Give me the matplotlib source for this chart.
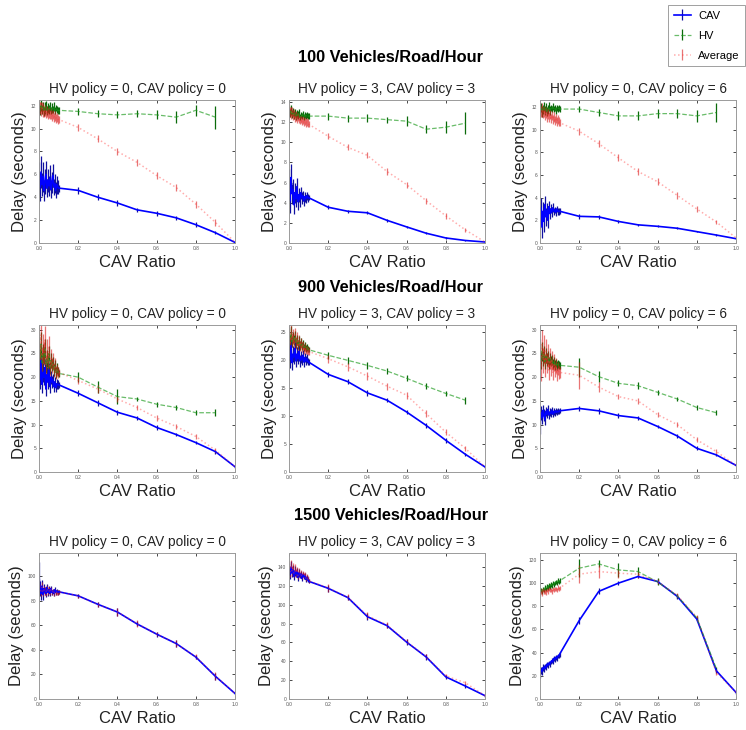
import matplotlib
matplotlib.use('Agg')
import matplotlib.pyplot as plt

plt.rcParams['font.family'] = ['Liberation Sans', 'DejaVu Sans']

# cav ratio grid: dense steps up to 0.1, then steps of 0.1
X = [0.0, 0.005, 0.01, 0.015, 0.02, 0.025, 0.03, 0.035, 0.04, 0.045,
     0.05, 0.055, 0.06, 0.065, 0.07, 0.075, 0.08, 0.085, 0.09, 0.095,
     0.1, 0.2, 0.3, 0.4, 0.5, 0.6, 0.7, 0.8, 0.9, 1.0]
X_HV = X[:29]   # no human vehicles at ratio 1.0

X_TICKS = [0.0, 0.2, 0.4, 0.6, 0.8, 1.0]
ROW_TITLES = ['100 Vehicles/Road/Hour', '900 Vehicles/Road/Hour', '1500 Vehicles/Road/Hour']
PANEL_TITLES = ['HV policy = 0, CAV policy = 0',
                'HV policy = 3, CAV policy = 3',
                'HV policy = 0, CAV policy = 6']

# ---- 100 vehicles/road/hour ----
cav_100_a = [5.6, 4.9, 6.2, 5.1, 5.8, 4.6, 5.4, 6.0, 4.8, 5.5, 5.0, 5.7, 4.7, 5.3, 5.9, 4.9, 5.2, 4.6, 5.1, 4.9,
             4.8, 4.6, 4.0, 3.5, 2.9, 2.6, 2.2, 1.6, 0.9, 0.05]
cav_err_100_a = [1.5, 1.2, 1.4, 1.0, 1.3, 0.9, 1.1, 1.2, 0.8, 1.0, 0.9, 1.1, 0.8, 0.9, 1.0, 0.7, 0.8, 0.7, 0.8, 0.6,
                 0.3, 0.3, 0.25, 0.25, 0.2, 0.2, 0.2, 0.2, 0.15, 0.05]
hv_100_a = [11.9, 11.6, 12.0, 11.7, 11.9, 11.5, 11.8, 12.0, 11.6, 11.8, 11.7, 11.9, 11.6, 11.8, 11.7, 11.9, 11.6, 11.8, 11.7, 11.6,
            11.6, 11.5, 11.3, 11.2, 11.3, 11.2, 11.0, 11.6, 11.0]
hv_err_100_a = [0.5, 0.4, 0.5, 0.4, 0.4, 0.4, 0.5, 0.4, 0.4, 0.4, 0.4, 0.4, 0.3, 0.4, 0.3, 0.4, 0.3, 0.3, 0.3, 0.3,
                0.3, 0.3, 0.3, 0.3, 0.3, 0.4, 0.5, 0.5, 1.0]
avg_100_a = [11.9, 11.8, 11.7, 11.8, 11.6, 11.5, 11.6, 11.4, 11.5, 11.3, 11.4, 11.2, 11.3, 11.1, 11.2, 11.0, 11.1, 10.9, 11.0, 10.8,
             10.8, 10.1, 9.1, 8.0, 7.05, 5.9, 4.85, 3.4, 1.8, 0.05]
avg_err_100_a = [0.6, 0.5, 0.6, 0.5, 0.6, 0.5, 0.5, 0.5, 0.5, 0.5, 0.5, 0.4, 0.5, 0.4, 0.4, 0.4, 0.4, 0.4, 0.4, 0.4,
                 0.3, 0.3, 0.3, 0.3, 0.3, 0.3, 0.3, 0.3, 0.3, 0.05]

cav_100_b = [5.8, 4.2, 6.5, 4.9, 5.3, 3.8, 5.0, 4.4, 5.6, 4.1, 4.8, 4.3, 5.0, 4.5, 4.7, 4.2, 4.6, 4.4, 4.7, 4.5,
             4.5, 3.55, 3.15, 3.0, 2.25, 1.6, 0.97, 0.5, 0.25, 0.1]
cav_err_100_b = [1.5, 1.2, 1.3, 1.0, 1.1, 0.9, 1.0, 0.8, 0.9, 0.8, 0.7, 0.7, 0.6, 0.6, 0.5, 0.5, 0.5, 0.4, 0.4, 0.4,
                 0.25, 0.2, 0.15, 0.15, 0.15, 0.1, 0.1, 0.1, 0.05, 0.05]
hv_100_b = [13.1, 12.9, 13.2, 12.8, 13.0, 12.7, 12.9, 12.6, 12.8, 12.7, 12.9, 12.5, 12.7, 12.6, 12.8, 12.5, 12.7, 12.6, 12.7, 12.6,
            12.6, 12.6, 12.4, 12.4, 12.25, 12.1, 11.3, 11.5, 11.9]
hv_err_100_b = [0.5, 0.4, 0.5, 0.4, 0.4, 0.4, 0.4, 0.4, 0.4, 0.4, 0.4, 0.3, 0.3, 0.3, 0.3, 0.3, 0.3, 0.3, 0.3, 0.3,
                0.3, 0.35, 0.35, 0.4, 0.3, 0.5, 0.4, 0.6, 1.1]
avg_100_b = [13.2, 13.0, 12.9, 13.0, 12.7, 12.8, 12.5, 12.6, 12.4, 12.5, 12.3, 12.2, 12.3, 12.1, 12.2, 12.0, 12.1, 11.9, 12.0, 11.9,
             11.8, 10.6, 9.5, 8.7, 7.1, 5.8, 4.2, 2.7, 1.3, 0.1]
avg_err_100_b = [0.6, 0.5, 0.6, 0.5, 0.5, 0.5, 0.5, 0.5, 0.5, 0.4, 0.4, 0.4, 0.4, 0.4, 0.4, 0.4, 0.4, 0.4, 0.4, 0.4,
                 0.3, 0.3, 0.3, 0.3, 0.3, 0.3, 0.3, 0.3, 0.2, 0.05]

cav_100_c = [2.2, 3.1, 1.4, 2.8, 1.9, 3.4, 2.3, 2.9, 2.0, 3.2, 2.6, 3.0, 2.7, 3.1, 2.8, 2.9, 2.7, 3.0, 2.8, 2.8,
             2.8, 2.35, 2.3, 1.9, 1.6, 1.47, 1.3, 1.0, 0.7, 0.38]
cav_err_100_c = [1.0, 0.9, 1.0, 0.8, 0.9, 0.7, 0.8, 0.6, 0.7, 0.5, 0.5, 0.4, 0.4, 0.4, 0.3, 0.3, 0.3, 0.3, 0.3, 0.3,
                 0.25, 0.2, 0.15, 0.1, 0.1, 0.1, 0.1, 0.05, 0.05, 0.05]
hv_100_c = [11.7, 11.9, 11.6, 11.8, 12.0, 11.7, 11.9, 11.6, 11.8, 12.0, 11.7, 11.9, 11.8, 12.0, 11.8, 11.9, 11.7, 11.9, 11.8, 11.9,
            11.8, 11.8, 11.5, 11.2, 11.2, 11.4, 11.4, 11.2, 11.5]
hv_err_100_c = [0.5, 0.4, 0.5, 0.4, 0.4, 0.4, 0.4, 0.4, 0.4, 0.4, 0.4, 0.3, 0.3, 0.3, 0.3, 0.3, 0.3, 0.3, 0.3, 0.3,
                0.3, 0.3, 0.3, 0.4, 0.4, 0.4, 0.4, 0.5, 0.8]
avg_100_c = [11.8, 11.6, 11.7, 11.5, 11.6, 11.3, 11.5, 11.2, 11.4, 11.1, 11.3, 11.0, 11.2, 10.9, 11.1, 10.8, 11.0, 10.7, 10.9, 10.7,
             10.6, 9.85, 8.75, 7.5, 6.3, 5.4, 4.2, 3.0, 1.85, 0.45]
avg_err_100_c = [0.6, 0.5, 0.6, 0.5, 0.5, 0.5, 0.5, 0.5, 0.5, 0.4, 0.4, 0.4, 0.4, 0.4, 0.4, 0.4, 0.4, 0.4, 0.4, 0.4,
                 0.3, 0.3, 0.3, 0.3, 0.3, 0.3, 0.3, 0.3, 0.2, 0.05]

# ---- 900 vehicles/road/hour ----
cav_900_a = [22.5, 19.5, 23.5, 18.5, 21.0, 20.0, 22.0, 17.5, 20.5, 19.0, 21.5, 18.0, 20.0, 19.0, 19.5, 18.0, 19.0, 17.8, 18.6, 18.4,
             18.4, 16.6, 14.6, 12.6, 11.4, 9.4, 7.9, 6.2, 4.3, 1.1]
cav_err_900_a = [2.5, 2.0, 2.2, 1.8, 2.0, 1.6, 1.8, 1.5, 1.6, 1.4, 1.5, 1.3, 1.4, 1.2, 1.2, 1.1, 1.1, 1.0, 1.0, 1.0,
                 0.6, 0.6, 0.6, 0.5, 0.5, 0.5, 0.4, 0.4, 0.4, 0.2]
hv_900_a = [26.0, 24.0, 27.0, 23.0, 25.0, 24.5, 26.0, 22.5, 24.0, 23.0, 25.0, 22.0, 23.5, 22.5, 23.0, 21.5, 22.5, 21.0, 21.8, 21.2,
            20.8, 20.0, 17.9, 15.9, 15.4, 14.3, 13.6, 12.5, 12.5]
hv_err_900_a = [2.5, 2.0, 2.5, 2.0, 2.0, 1.8, 2.0, 1.6, 1.8, 1.5, 1.6, 1.4, 1.5, 1.3, 1.3, 1.2, 1.2, 1.1, 1.1, 1.0,
                0.8, 1.0, 1.2, 1.5, 0.5, 0.5, 0.5, 0.5, 0.7]
avg_900_a = [27.0, 24.0, 29.0, 23.5, 26.0, 25.0, 28.0, 22.5, 25.5, 23.0, 26.5, 22.0, 24.0, 22.5, 23.5, 21.5, 22.5, 21.0, 21.5, 21.0,
             21.0, 19.3, 17.5, 15.4, 13.6, 11.4, 9.6, 7.5, 4.6, 1.1]
avg_err_900_a = [3.5, 3.0, 3.0, 2.8, 3.0, 2.5, 2.8, 2.2, 2.5, 2.0, 2.2, 1.8, 2.0, 1.6, 1.6, 1.5, 1.5, 1.4, 1.3, 1.2,
                 0.8, 0.8, 0.8, 0.7, 0.6, 0.6, 0.5, 0.5, 0.5, 0.2]

cav_900_b = [21.5, 20.0, 22.5, 19.5, 21.0, 20.5, 22.0, 19.8, 21.0, 20.2, 21.5, 19.8, 20.5, 20.0, 20.8, 19.6, 20.4, 19.8, 20.2, 19.7,
             19.6, 17.4, 16.1, 14.1, 12.8, 10.7, 8.3, 5.65, 3.15, 0.9]
cav_err_900_b = [1.6, 1.4, 1.5, 1.3, 1.4, 1.2, 1.3, 1.1, 1.2, 1.0, 1.1, 1.0, 1.0, 0.9, 0.9, 0.9, 0.8, 0.8, 0.8, 0.7,
                 0.5, 0.5, 0.5, 0.5, 0.4, 0.4, 0.4, 0.4, 0.3, 0.2]
hv_900_b = [24.5, 23.5, 24.8, 23.2, 24.0, 23.6, 24.2, 23.0, 23.6, 22.8, 23.4, 22.6, 23.0, 22.4, 22.8, 22.2, 22.5, 22.0, 22.2, 21.9,
            21.8, 20.8, 19.9, 19.0, 18.0, 16.7, 15.3, 14.0, 12.8]
hv_err_900_b = [1.2, 1.0, 1.2, 1.0, 1.0, 0.9, 1.0, 0.9, 0.9, 0.8, 0.8, 0.8, 0.8, 0.7, 0.7, 0.7, 0.7, 0.6, 0.6, 0.6,
                0.5, 0.6, 0.6, 0.6, 0.5, 0.5, 0.5, 0.5, 0.6]
avg_900_b = [24.5, 23.0, 25.0, 23.5, 24.2, 22.8, 24.5, 23.0, 23.8, 22.6, 23.4, 22.5, 23.0, 22.2, 22.6, 21.9, 22.2, 21.7, 21.8, 21.6,
             21.5, 20.2, 18.75, 17.1, 15.3, 13.7, 10.4, 7.1, 4.2, 0.9]
avg_err_900_b = [1.5, 1.3, 1.5, 1.2, 1.3, 1.1, 1.2, 1.0, 1.1, 1.0, 1.0, 0.9, 0.9, 0.9, 0.8, 0.8, 0.8, 0.7, 0.7, 0.7,
                 0.6, 0.7, 0.7, 0.7, 0.6, 0.6, 0.6, 0.5, 0.4, 0.2]

cav_900_c = [10.0, 12.5, 11.5, 13.0, 12.0, 11.0, 12.8, 12.2, 13.2, 12.0, 12.6, 12.4, 13.0, 12.2, 12.8, 12.5, 12.9, 12.6, 12.8, 12.7,
             12.9, 13.4, 12.9, 11.9, 11.4, 9.6, 7.6, 5.0, 3.6, 1.4]
cav_err_900_c = [2.0, 1.5, 1.4, 1.2, 1.2, 1.0, 1.0, 0.9, 0.9, 0.8, 0.8, 0.8, 0.7, 0.7, 0.7, 0.6, 0.6, 0.6, 0.6, 0.5,
                 0.5, 0.6, 0.6, 0.5, 0.5, 0.4, 0.4, 0.4, 0.3, 0.2]
hv_900_c = [25.0, 23.5, 25.5, 24.0, 24.8, 23.2, 24.5, 23.8, 24.2, 23.0, 23.8, 23.4, 23.6, 22.8, 23.2, 22.6, 23.0, 22.5, 22.8, 22.6,
            22.5, 22.1, 20.1, 18.7, 18.2, 16.8, 15.4, 13.6, 12.5]
hv_err_900_c = [2.0, 1.8, 2.0, 1.6, 1.8, 1.5, 1.6, 1.4, 1.4, 1.2, 1.2, 1.1, 1.1, 1.0, 1.0, 1.0, 0.9, 0.9, 0.9, 0.8,
                0.8, 2.0, 1.2, 0.6, 0.8, 0.5, 0.5, 0.5, 0.5]
avg_900_c = [25.0, 22.0, 27.0, 23.5, 26.0, 22.5, 25.5, 23.0, 24.5, 21.5, 24.0, 22.0, 23.5, 21.0, 23.0, 21.5, 22.5, 20.5, 21.8, 21.0,
             21.0, 20.4, 17.9, 15.9, 15.0, 12.1, 10.0, 6.8, 4.3, 1.4]
avg_err_900_c = [3.0, 2.8, 3.0, 2.6, 2.8, 2.4, 2.6, 2.2, 2.4, 2.0, 2.2, 1.8, 2.0, 1.6, 1.8, 1.5, 1.6, 1.4, 1.4, 1.3,
                 1.2, 2.8, 1.0, 0.6, 0.6, 0.6, 0.5, 0.5, 0.5, 0.2]

# ---- 1500 vehicles/road/hour (no separate HV curve visible in the first two) ----
cav_1500_a = [100, 90, 86, 92, 85, 90, 88, 86, 91, 87, 89, 86, 90, 87, 88, 86, 89, 87, 88, 87,
              87.4, 84.1, 77.2, 70.9, 61.2, 52.9, 45.2, 34.2, 18.5, 4.5]
cav_err_1500_a = [12, 6, 5, 5, 4, 4, 3, 3, 3, 3, 3, 2, 2, 2, 2, 2, 2, 2, 2, 2,
                  1.5, 1.5, 2, 3, 2, 2, 3, 2, 3, 0.5]
avg_1500_a = [92, 90, 88, 91, 87, 89, 88, 87, 90, 88, 89, 87, 89, 87, 88, 86, 88, 87, 87, 87,
              87.4, 84.0, 77.0, 71.0, 61.5, 53.0, 45.0, 34.5, 18.8, 4.5]
avg_err_1500_a = [5, 4, 4, 4, 3, 3, 3, 3, 3, 3, 2, 2, 2, 2, 2, 2, 2, 2, 2, 2,
                  1.5, 1.5, 2, 3, 3, 2, 3, 2, 3, 0.5]

cav_1500_b = [138, 132, 140, 134, 137, 130, 136, 133, 135, 129, 134, 131, 133, 128, 132, 130, 131, 127, 129, 127,
              125, 117.5, 107.7, 87.4, 77.9, 60.4, 44.6, 23.5, 13.7, 3.5]
cav_err_1500_b = [6, 5, 6, 5, 5, 4, 5, 4, 4, 4, 4, 3, 3, 3, 3, 3, 3, 3, 3, 3,
                  2, 4, 3, 4, 3, 3, 3, 2, 2, 1]
avg_1500_b = [140, 135, 142, 136, 139, 133, 138, 134, 136, 131, 135, 132, 134, 130, 133, 131, 132, 128, 130, 128,
              125.5, 118, 108, 88.5, 78.5, 61, 45, 24.5, 17.2, 3.5]
avg_err_1500_b = [6, 5, 6, 5, 5, 4, 5, 4, 4, 4, 4, 3, 3, 3, 3, 3, 3, 3, 3, 3,
                  2, 4, 3, 4, 3, 3, 3, 2, 2, 1]

cav_1500_c = [22, 25, 24, 27, 26, 28, 27, 30, 29, 31, 30, 32, 33, 32, 35, 34, 36, 35, 37, 37,
              38.6, 67.7, 92.9, 100, 105.7, 101.4, 88.6, 69, 24.3, 5.7]
cav_err_1500_c = [4, 3, 3, 3, 3, 2, 2, 2, 2, 2, 2, 2, 2, 2, 2, 2, 2, 2, 2, 2,
                  2, 3, 2.5, 2, 1.5, 2, 2, 2, 2, 1]
hv_1500_c = [93, 94, 93, 95, 94, 96, 95, 97, 96, 98, 97, 99, 98, 100, 99, 100, 101, 100, 102, 101,
             102, 112.9, 116.6, 111.4, 110, 101, 89, 70, 26]
hv_err_1500_c = [2, 2, 2, 2, 2, 2, 2, 2, 2, 2, 2, 2, 2, 2, 2, 2, 2, 2, 2, 2,
                 2, 8, 3, 6, 4, 3, 2, 2, 2]
avg_1500_c = [92, 93, 92, 94, 93, 93, 92, 94, 93, 95, 94, 94, 93, 95, 94, 95, 95, 94, 96, 95,
              95.7, 107.7, 110, 108.6, 107.7, 101.4, 89.4, 70.6, 22.9, 5.7]
avg_err_1500_c = [3, 2, 3, 2, 2, 2, 2, 2, 2, 2, 2, 2, 2, 2, 2, 2, 2, 2, 2, 2,
                  1.5, 8, 6, 4, 3, 2, 2, 2, 2, 1]

panels = [
    [(cav_100_a, cav_err_100_a, hv_100_a, hv_err_100_a, avg_100_a, avg_err_100_a),
     (cav_100_b, cav_err_100_b, hv_100_b, hv_err_100_b, avg_100_b, avg_err_100_b),
     (cav_100_c, cav_err_100_c, hv_100_c, hv_err_100_c, avg_100_c, avg_err_100_c)],
    [(cav_900_a, cav_err_900_a, hv_900_a, hv_err_900_a, avg_900_a, avg_err_900_a),
     (cav_900_b, cav_err_900_b, hv_900_b, hv_err_900_b, avg_900_b, avg_err_900_b),
     (cav_900_c, cav_err_900_c, hv_900_c, hv_err_900_c, avg_900_c, avg_err_900_c)],
    [(cav_1500_a, cav_err_1500_a, None, None, avg_1500_a, avg_err_1500_a),
     (cav_1500_b, cav_err_1500_b, None, None, avg_1500_b, avg_err_1500_b),
     (cav_1500_c, cav_err_1500_c, hv_1500_c, hv_err_1500_c, avg_1500_c, avg_err_1500_c)],
]
y_tops = [[12.5, 14.2, 12.6], [31, 26.2, 31], [119, 155, 126]]

# layout in pixels
W, H = 746, 730
row_tops = [100, 325, 553]
row_heights = [143, 147, 146]
row_title_y = [58, 288, 516]
col_lefts = [39, 289, 540]
col_width = 196

fig = plt.figure(figsize=(W / 100, H / 100), dpi=100)

handles = None
for r in range(3):
    fig.text(391 / W, 1 - row_title_y[r] / H, ROW_TITLES[r], ha='center', va='center',
             fontsize=11.8, fontweight='bold')
    for c in range(3):
        cav, cav_err, hv, hv_err, avg, avg_err = panels[r][c]
        ax = fig.add_axes([col_lefts[c] / W, 1 - (row_tops[r] + row_heights[r]) / H,
                           col_width / W, row_heights[r] / H])
        h1 = ax.errorbar(X, cav, yerr=cav_err, color='blue', ecolor='#1010a0',
                         lw=1.2, elinewidth=0.9, label='CAV')
        if hv is not None:
            h2 = ax.errorbar(X_HV, hv, yerr=hv_err, color=(0.1, 0.6, 0.1, 0.65), ecolor='#0b6b0b',
                             ls='--', lw=0.9, elinewidth=0.9, label='HV')
        h3 = ax.errorbar(X, avg, yerr=avg_err, color=(1.0, 0.2, 0.2, 0.4), ecolor=(0.85, 0.1, 0.1, 0.6),
                         ls=':', lw=1.1, elinewidth=0.9, label='Average')
        if r == 0 and c == 0:
            handles = [h1, h2, h3]

        ax.set_xlim(0, 1)
        ax.set_ylim(0, y_tops[r][c])
        ax.set_xticks(X_TICKS)
        ax.tick_params(labelsize=3.5, labelcolor='#555555', direction='in', length=2,
                       width=0.5, pad=2, top=True, right=True)
        for s in ax.spines.values():
            s.set_color('#9a9a9a')
            s.set_linewidth(0.7)
        ax.set_title(PANEL_TITLES[c], fontsize=9.8, pad=5, color='#222222')
        ax.set_ylabel('Delay (seconds)', fontsize=12, labelpad=3, color='#222222')
        ax.set_xlabel('CAV Ratio', fontsize=12, labelpad=3, color='#222222')

leg = fig.legend(handles, ['CAV', 'HV', 'Average'], loc='upper right',
                 bbox_to_anchor=(745 / W, 1 - 5 / H), bbox_transform=fig.transFigure,
                 fontsize=8, fancybox=False, borderaxespad=0, handlelength=1.6,
                 handletextpad=0.6, labelspacing=0.9, borderpad=0.5)
leg.get_frame().set_edgecolor('#888888')
leg.get_frame().set_linewidth(0.7)

fig.savefig('out.png', dpi=100)
